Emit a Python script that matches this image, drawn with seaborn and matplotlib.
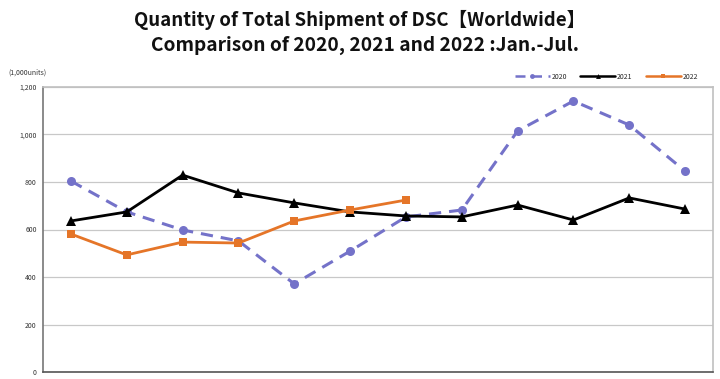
import matplotlib
matplotlib.use("Agg")
import matplotlib.pyplot as plt
import seaborn as sns
import pandas as pd
from matplotlib.ticker import FuncFormatter

months = ["Jan", "Feb", "Mar", "Apr", "May", "Jun", "Jul", "Aug", "Sep", "Oct", "Nov", "Dec"]
v2020 = [804, 674, 598, 552, 371, 509, 653, 682, 1015, 1141, 1040, 846]
v2021 = [636, 674, 829, 754, 712, 674, 657, 653, 703, 640, 733, 686]
v2022 = [581, 493, 547, 543, 636, 682, 724]
yticks = [0, 200, 400, 600, 800, 1000, 1200]

sns.set_theme(style="white")
plt.rcParams["font.family"] = ["Noto Sans CJK JP", "DejaVu Sans"]

fig = plt.figure(figsize=(7.2, 3.79), dpi=100)
ax = fig.add_axes([43 / 720, 1 - 372 / 379, (713 - 43) / 720, (372 - 87) / 379])

x = list(range(12))
df20 = pd.DataFrame({"x": x, "y": v2020})
df21 = pd.DataFrame({"x": x, "y": v2021})
df22 = pd.DataFrame({"x": x[:len(v2022)], "y": v2022})

sns.lineplot(data=df20, x="x", y="y", ax=ax, color="#7472c9", linewidth=2.2,
             linestyle=(0, (4, 2.6)), marker="o", markersize=6.5, markeredgewidth=0,
             label="2020", zorder=3)
sns.lineplot(data=df21, x="x", y="y", ax=ax, color="#000000", linewidth=2,
             marker="^", markersize=6.5, markeredgewidth=0, label="2021", zorder=4)
sns.lineplot(data=df22, x="x", y="y", ax=ax, color="#e57528", linewidth=2,
             marker="s", markersize=6.3, markeredgewidth=0, label="2022", zorder=5)

ax.set_xlim(-0.5, 11.5)
ax.set_ylim(0, 1200)
ax.set_yticks(yticks)
ax.yaxis.set_major_formatter(FuncFormatter(lambda v, p: f"{int(v):,}"))
ax.set_xticks([])
ax.set_xlabel("")
ax.set_ylabel("")
ax.tick_params(axis="y", labelsize=5, colors="#333333", length=0, pad=4.5)
ax.grid(axis="y", color="#c8c8c8", linewidth=0.9)
ax.set_axisbelow(True)
for s in ["top", "right"]:
    ax.spines[s].set_color("#c0c0c0")
    ax.spines[s].set_linewidth(1.2)
ax.spines["left"].set_color("#777777")
ax.spines["left"].set_linewidth(1.2)
ax.spines["bottom"].set_color("#555555")
ax.spines["bottom"].set_linewidth(1.2)

leg = ax.legend(loc="lower right", bbox_to_anchor=(0.985, 1.005), ncol=3, frameon=False,
                fontsize=5, handlelength=5, columnspacing=1.9, handletextpad=0.3,
                borderaxespad=0.3)
for h in leg.legend_handles:
    h.set_markersize(3.5)
    h.set_linewidth(1.8)

fig.text(8 / 720, 1 - 73 / 379, "(1,000units)", fontsize=5, color="#333333",
         va="center", ha="left")
fig.text(360 / 720, 1 - 20 / 379, "Quantity of Total Shipment of DSC【Worldwide】",
         fontsize=13.4, fontweight="bold", ha="center", va="center", color="#111111")
fig.text(365 / 720, 1 - 45 / 379, "Comparison of 2020, 2021 and 2022 :Jan.-Jul.",
         fontsize=13.8, fontweight="bold", ha="center", va="center", color="#111111")

fig.savefig("out.png", dpi=100)
